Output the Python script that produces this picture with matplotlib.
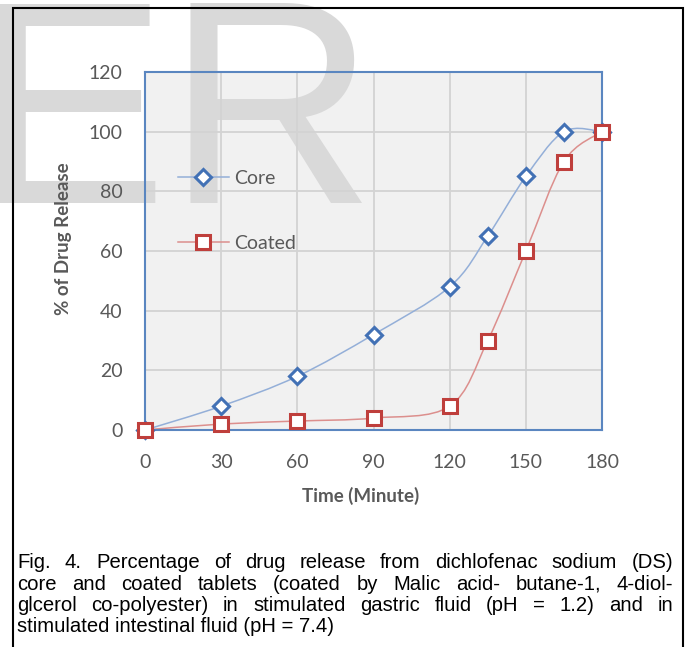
import numpy as np
import matplotlib.pyplot as plt
from matplotlib.path import Path
from matplotlib.patches import PathPatch, Rectangle
from matplotlib.lines import Line2D

# data
time = [0, 30, 60, 90, 120, 135, 150, 165, 180]
core = [0, 8, 18, 32, 48, 65, 85, 100, 100]
coated = [0, 2, 3, 4, 8, 30, 60, 90, 100]
x_ticks = [0, 30, 60, 90, 120, 150, 180]
y_ticks = [0, 20, 40, 60, 80, 100, 120]

caption_lines = [
    "Fig. 4. Percentage of drug release from dichlofenac sodium (DS)",
    "core and coated tablets (coated by Malic acid- butane-1, 4-diol-",
    "glcerol co-polyester) in stimulated gastric fluid (pH = 1.2) and in",
    "stimulated intestinal fluid (pH = 7.4)",
]

W, H = 690, 647
txt_col = '#595959'
blue_line, blue_mk = '#94afd8', '#4271b5'
red_line, red_mk = '#dc8f8d', '#bf3f3c'


def smooth_path(xs, ys):
    # excel-like smoothed line (catmull-rom as cubic bezier)
    pts = np.column_stack([xs, ys]).astype(float)
    n = len(pts)
    verts = [pts[0]]
    codes = [Path.MOVETO]
    for i in range(n - 1):
        p0 = pts[i - 1] if i > 0 else pts[i]
        p1 = pts[i]
        p2 = pts[i + 1]
        p3 = pts[i + 2] if i + 2 < n else pts[i + 1]
        verts += [p1 + (p2 - p0) / 6, p2 - (p3 - p1) / 6, p2]
        codes += [Path.CURVE4] * 3
    return Path(verts, codes)


fig = plt.figure(figsize=(W / 100, H / 100), dpi=100)
ax = fig.add_axes([145 / W, 1 - 430 / H, 457 / W, 358 / H])
ax.set_facecolor('#f1f1f1')

# watermark behind the grid
ax.text(-26 / W, 1 - 203 / H, "ER", transform=fig.transFigure, clip_on=False,
        fontsize=208, family='Liberation Sans', color='#d9d9d9',
        ha='left', va='baseline', zorder=0.2)

ax.add_patch(PathPatch(smooth_path(time, core), fill=False, ec=blue_line, lw=1.1, zorder=2))
ax.add_patch(PathPatch(smooth_path(time, coated), fill=False, ec=red_line, lw=1.1, zorder=2))
ax.plot(time, core, ls='none', marker='D', ms=8.5, mfc='white', mec=blue_mk, mew=2.2,
        zorder=3, clip_on=False)
ax.plot(time, coated, ls='none', marker='s', ms=10, mfc='white', mec=red_mk, mew=2.2,
        zorder=4, clip_on=False)

ax.set_xlim(0, 180)
ax.set_ylim(0, 120)
ax.set_xticks(x_ticks)
ax.set_yticks(y_ticks)
ax.set_axisbelow(True)
ax.grid(True, color='#d3d3d3', lw=1.3)
ax.tick_params(length=0, labelsize=14, labelcolor=txt_col)
ax.tick_params(axis='y', pad=16)
ax.tick_params(axis='x', pad=17)
for lab in ax.get_xticklabels() + ax.get_yticklabels():
    lab.set_family('Lato')
for sp in ax.spines.values():
    sp.set_color('#5a86c0')
    sp.set_linewidth(1.5)

handles = [
    Line2D([], [], color=blue_line, lw=1.1, marker='D', ms=8.5, mfc='white', mec=blue_mk, mew=2.2),
    Line2D([], [], color=red_line, lw=1.1, marker='s', ms=10, mfc='white', mec=red_mk, mew=2.2),
]
leg = ax.legend(handles, ['Core', 'Coated'], loc='center left',
                bbox_to_anchor=((178 - 145) / 457, (430 - 211) / 358),
                frameon=False, borderpad=0, borderaxespad=0, handlelength=2.6,
                handletextpad=0.3, labelspacing=2.45,
                prop={'family': 'Lato', 'size': 14})
for t in leg.get_texts():
    t.set_color(txt_col)

fig.text(64 / W, 1 - 239 / H, "% of Drug Release", rotation=90, ha='center', va='center',
         family='Lato', weight='bold', fontsize=13.5, color=txt_col)
fig.text(361 / W, 1 - 496 / H, "Time (Minute)", ha='center', va='center',
         family='Lato', weight='bold', fontsize=13.5, color=txt_col)

# caption, justified like the original
renderer = fig.canvas.get_renderer()
x0, x1 = 17, 673
baselines = [568, 589.5, 611, 632]
cap_kw = dict(family='Liberation Sans', fontsize=14.6, color='black', va='baseline')
for i, (line, yb) in enumerate(zip(caption_lines, baselines)):
    if i == len(caption_lines) - 1:
        fig.text(x0 / W, 1 - yb / H, line, ha='left', **cap_kw)
        continue
    words = line.split(' ')
    objs = [fig.text(0, 1 - yb / H, w, ha='left', **cap_kw) for w in words]
    widths = [o.get_window_extent(renderer).width for o in objs]
    gap = (x1 - x0 - sum(widths)) / (len(words) - 1)
    x = x0
    for o, w in zip(objs, widths):
        o.set_x(x / W)
        x += w + gap

# outer frame
fig.add_artist(Rectangle((13 / W, -0.05), (683 - 13) / W, 1.05 - 8 / H,
                         transform=fig.transFigure, fill=False, ec='black', lw=1.5, zorder=5))

fig.savefig('out.png', dpi=100)
